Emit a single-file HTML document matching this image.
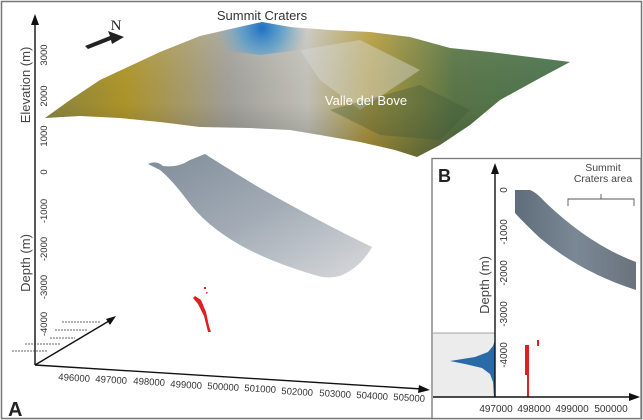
<!DOCTYPE html>
<html><head><meta charset="utf-8"><style>
html,body{margin:0;padding:0;background:#fff}
svg{display:block;font-family:"Liberation Sans",Arial,sans-serif}
</style></head><body>
<svg width="643" height="420" viewBox="0 0 643 420" xmlns="http://www.w3.org/2000/svg">
<defs>
<linearGradient id="ter" x1="0" y1="0" x2="1" y2="0">
<stop offset="0" stop-color="#8f8a45"/>
<stop offset="0.15" stop-color="#b59a2a"/>
<stop offset="0.35" stop-color="#a8a6a0"/>
<stop offset="0.5" stop-color="#c9c8c0"/>
<stop offset="0.62" stop-color="#b8a040"/>
<stop offset="0.78" stop-color="#5d7a4a"/>
<stop offset="1" stop-color="#4f7a55"/>
</linearGradient>
<linearGradient id="terv" x1="0" y1="0" x2="0" y2="1">
<stop offset="0" stop-color="#fff" stop-opacity="0.1"/>
<stop offset="0.6" stop-color="#000" stop-opacity="0.05"/>
<stop offset="1" stop-color="#000" stop-opacity="0.25"/>
</linearGradient>
<radialGradient id="sum" cx="262" cy="28" r="45" gradientUnits="userSpaceOnUse">
<stop offset="0" stop-color="#1d6fc4"/>
<stop offset="0.5" stop-color="#4a9bd0" stop-opacity="0.7"/>
<stop offset="1" stop-color="#7ab0d0" stop-opacity="0"/>
</radialGradient>
<linearGradient id="shell" x1="0" y1="0" x2="1" y2="1">
<stop offset="0" stop-color="#7f8c99"/>
<stop offset="0.5" stop-color="#a3acb6"/>
<stop offset="1" stop-color="#d8dadc"/>
</linearGradient>
<linearGradient id="band" x1="0" y1="0" x2="1" y2="0">
<stop offset="0" stop-color="#5f6d7a"/>
<stop offset="0.5" stop-color="#7a8896"/>
<stop offset="1" stop-color="#6a737c"/>
</linearGradient>
</defs>
<rect x="1.5" y="1.5" width="640" height="417" fill="#fff" stroke="#777" stroke-width="1.5"/>

<!-- terrain -->
<path id="tp" d="M45,118 L70,100 L100,80 L130,66 L160,52 L200,36 L235,28 L262,22 L290,27 L330,30 L370,32 L410,37 L450,48 L490,52 L530,57 L570,62 L540,78 L500,100 L470,125 L440,145 L417,157 L395,150 L360,142 L320,135 L290,130 L250,128 L200,127 L160,122 L120,118 L80,116 Z" fill="url(#ter)"/>
<path d="M45,118 L70,100 L100,80 L130,66 L160,52 L200,36 L235,28 L262,22 L290,27 L330,30 L370,32 L410,37 L450,48 L490,52 L530,57 L570,62 L540,78 L500,100 L470,125 L440,145 L417,157 L395,150 L360,142 L320,135 L290,130 L250,128 L200,127 L160,122 L120,118 L80,116 Z" fill="url(#terv)"/>
<path d="M200,36 L235,28 L262,22 L290,27 L320,32 L300,50 L260,55 L220,50 Z" fill="url(#sum)"/>
<path d="M300,50 L360,40 L420,70 L360,110 L320,80 Z" fill="#d8dad8" opacity="0.45"/>
<path d="M330,110 L420,85 L470,110 L440,140 L380,135 Z" fill="#3f5a3a" opacity="0.35"/>
<text x="262" y="20" font-size="13" fill="#333" text-anchor="middle">Summit Craters</text>
<text x="366" y="105" font-size="13" fill="#fff" text-anchor="middle">Valle del Bove</text>

<!-- North arrow -->
<polygon points="85,46 110,36 108,31 124,37 112,44 111,40 88,49" fill="#222"/>
<text x="116" y="30" font-size="15" font-family="Liberation Serif,serif" fill="#222" text-anchor="middle">N</text>

<!-- shell -->
<path d="M148,164 Q156,160 163,166 Q178,168 190,160 L205,154 Q230,170 260,188 Q320,222 372,247 Q360,268 340,276 Q328,279 318,276 Q270,262 240,245 Q205,225 187,200 Q172,180 160,170 Z" fill="url(#shell)"/>

<!-- red events A -->
<g fill="#e02020">
<path d="M195,296 L201,300 L206,312 L209,326 L211,332 L208,332 L204,316 L198,304 L193,298 Z"/>
<rect x="204" y="287" width="2" height="2"/><rect x="206" y="292" width="1.5" height="1.5"/>
</g>

<!-- axes A -->
<g stroke="#111" stroke-width="1.4" fill="none">
<line x1="35" y1="22" x2="35" y2="365"/>
<line x1="35" y1="365" x2="422" y2="389"/>
<line x1="35" y1="365" x2="114" y2="318"/>
</g>
<polygon points="35,14 31,25 39,25" fill="#111"/>
<polygon points="430,390 419,385 418,393" fill="#111"/>
<polygon points="116,316 106,319 110,325" fill="#111"/>
<g font-size="9.5" fill="#333" text-anchor="middle">
<text transform="translate(47,55) rotate(-90)">3000</text>
<text transform="translate(47,96) rotate(-90)">2000</text>
<text transform="translate(47,136) rotate(-90)">1000</text>
<text transform="translate(47,172) rotate(-90)">0</text>
<text transform="translate(47,211) rotate(-90)">-1000</text>
<text transform="translate(47,249) rotate(-90)">-2000</text>
<text transform="translate(47,287) rotate(-90)">-3000</text>
<text transform="translate(47,324) rotate(-90)">-4000</text>
</g>
<text transform="translate(30,85) rotate(-90)" font-size="13" fill="#444" text-anchor="middle">Elevation (m)</text>
<text transform="translate(30,263) rotate(-90)" font-size="13" fill="#444" text-anchor="middle">Depth (m)</text>
<g font-size="9.5" fill="#333" text-anchor="middle">
<text transform="translate(74,381) rotate(3.5)">496000</text>
<text transform="translate(111,383) rotate(3.5)">497000</text>
<text transform="translate(149,385) rotate(3.5)">498000</text>
<text transform="translate(186,388) rotate(3.5)">499000</text>
<text transform="translate(223,390) rotate(3.5)">500000</text>
<text transform="translate(260,392) rotate(3.5)">501000</text>
<text transform="translate(297,395) rotate(3.5)">502000</text>
<text transform="translate(335,397) rotate(3.5)">503000</text>
<text transform="translate(372,399) rotate(3.5)">504000</text>
<text transform="translate(409,401) rotate(3.5)">505000</text>
</g>
<g stroke="#333" stroke-width="0.8" stroke-dasharray="2,1">
<line x1="62" y1="322" x2="100" y2="322"/><line x1="55" y1="330" x2="88" y2="330"/>
<line x1="50" y1="338" x2="75" y2="338"/><line x1="25" y1="344" x2="60" y2="344"/>
<line x1="12" y1="351" x2="48" y2="351"/>
</g>
<text x="8" y="416" font-size="20" font-weight="bold" fill="#222">A</text>

<!-- Panel B -->
<rect x="432" y="158.5" width="209" height="260" fill="#fff" stroke="#777" stroke-width="1.3"/>
<rect x="433" y="333" width="62" height="64" fill="#ececec"/>
<line x1="433" y1="333" x2="495" y2="333" stroke="#888" stroke-width="0.8"/>
<path d="M515,190 L530,190 Q536,192 545,202 Q590,245 636,262 L636,290 Q580,272 540,238 Q525,224 515,213 Z" fill="url(#band)"/>
<!-- histogram -->
<path d="M495,340 L493,346 L488,352 L475,357 L450,361 L465,364 L482,368 L490,374 L493,382 L494,397 L495,397 Z" fill="#2a6aa8"/>
<g fill="#e02020">
<rect x="525" y="345" width="4" height="30"/>
<rect x="527" y="375" width="2" height="22"/>
<rect x="537" y="340" width="2" height="6"/>
</g>
<g stroke="#111" stroke-width="1.4" fill="none">
<line x1="495" y1="170" x2="495" y2="397"/>
<line x1="433" y1="397" x2="632" y2="397"/>
</g>
<polygon points="495,163 491,174 499,174" fill="#111"/>
<polygon points="640,397 629,393 629,401" fill="#111"/>
<g font-size="10" fill="#333" text-anchor="middle">
<text transform="translate(507,190) rotate(-90)">0</text>
<text transform="translate(507,232) rotate(-90)">-1000</text>
<text transform="translate(507,273) rotate(-90)">-2000</text>
<text transform="translate(507,314) rotate(-90)">-3000</text>
<text transform="translate(507,355) rotate(-90)">-4000</text>
<text x="496" y="412">497000</text>
<text x="534" y="412">498000</text>
<text x="572" y="412">499000</text>
<text x="611" y="412">500000</text>
</g>
<text transform="translate(489,285) rotate(-90)" font-size="13" fill="#444" text-anchor="middle">Depth (m)</text>
<text x="438" y="182" font-size="18" font-weight="bold" fill="#222">B</text>
<text x="603" y="171" font-size="10.5" fill="#444" text-anchor="middle">Summit</text>
<text x="603" y="182" font-size="10.5" fill="#444" text-anchor="middle">Craters area</text>
<path d="M568,206 L568,199 L634,199 L634,206 M601,199 L601,194" stroke="#555" stroke-width="0.9" fill="none"/>
</svg>
</body></html>
